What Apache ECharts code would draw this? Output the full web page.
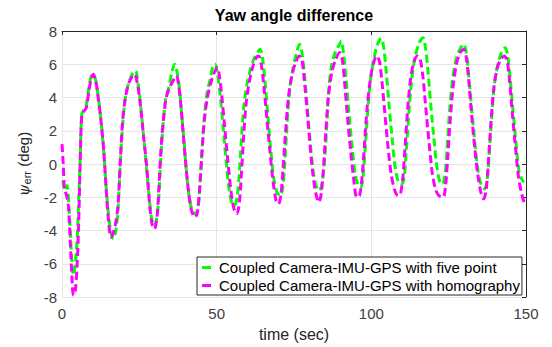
<!DOCTYPE html>
<html>
<head>
    <meta charset="utf-8">
    <style>
        body{
            margin:0;
            padding:0;
            background:#fff;
        }
        #chart{
            width: 552px;
            height: 347px;
        }
    </style>
</head>
<body>
    <div id="chart"></div>
    <script src="https://cdn.jsdelivr.net/npm/echarts@6/dist/echarts.min.js"></script>
    <script>
        // [time (sec), yaw error (deg)]
        var fivePoint = [
            [0.3,-1.0],[1.0,-1.6],[1.6,-1.3],[2.2,-2.4],[2.8,-4.5],[3.3,-6.2],[3.7,-6.7],[4.3,-6.0],[4.9,-4.5],[5.4,-2.2],
            [5.9,0.5],[6.4,3.0],[7.2,3.3],[7.8,3.5],[8.6,4.5],[9.3,5.2],[10.0,5.4],[10.8,5.1],[11.6,4.2],[12.5,2.8],
            [13.4,1.0],[14.2,-1.2],[15.0,-3.0],[15.8,-4.1],[16.6,-4.5],[17.4,-4.0],[18.1,-2.8],[18.7,-0.5],[19.4,1.8],[20.2,3.6],
            [21.0,4.5],[22.0,5.1],[23.0,5.5],[23.8,5.6],[24.6,4.8],[25.4,3.6],[26.3,1.8],[27.3,-0.2],[28.3,-2.2],[29.0,-3.3],
            [29.8,-3.7],[30.6,-3.3],[31.3,-2.0],[31.9,0.2],[32.6,2.2],[33.5,3.9],[34.5,4.6],[35.5,5.5],[36.4,6.0],[37.0,5.7],
            [37.8,4.8],[38.6,3.2],[39.5,1.2],[40.4,-0.8],[41.3,-2.2],[42.3,-2.9],[43.2,-3.0],[44.0,-2.5],[44.6,-1.2],[45.3,1.0],
            [46.1,3.0],[47.0,4.4],[47.8,5.0],[48.8,5.9],[49.5,6.0],[50.3,5.4],[51.1,4.2],[52.0,2.4],[53.0,0.3],[54.0,-1.5],
            [55.0,-2.4],[55.8,-2.5],[56.6,-2.0],[57.3,-0.6],[58.0,1.5],[58.8,3.5],[59.8,4.8],[60.8,5.6],[62.0,6.3],[63.2,6.7],
            [64.0,6.9],[64.8,6.4],[65.6,5.0],[66.5,3.0],[67.4,1.0],[68.4,-0.8],[69.5,-1.7],[70.5,-1.9],[71.3,-1.5],[72.0,0.0],
            [72.7,2.2],[73.5,4.3],[74.5,5.6],[75.7,6.6],[76.8,7.2],[77.5,6.8],[78.3,5.5],[79.2,3.6],[80.1,1.6],[81.1,-0.3],
            [82.1,-1.3],[83.2,-1.6],[84.0,-1.2],[84.8,0.0],[85.6,2.3],[86.2,4.4],[87.2,6.0],[88.5,6.8],[89.7,7.2],[90.3,7.4],
            [91.1,6.5],[91.9,5.0],[92.8,3.0],[93.8,1.0],[94.8,-0.6],[95.8,-1.3],[96.6,-1.4],[97.3,-0.8],[98.0,0.9],[98.8,3.1],
            [99.7,5.0],[100.8,6.3],[102.0,7.2],[103.2,7.55],[104.0,7.0],[104.8,5.6],[105.7,3.6],[106.7,1.6],[107.7,-0.2],[108.8,-1.1],
            [109.8,-1.2],[110.6,-0.8],[111.3,0.8],[112.1,3.0],[113.0,5.0],[114.1,6.4],[115.5,7.3],[116.7,7.6],[117.5,7.0],[118.3,5.6],
            [119.2,3.6],[120.2,1.6],[121.2,-0.2],[122.2,-1.1],[123.0,-1.2],[123.8,-0.7],[124.5,1.0],[125.3,3.2],[126.2,5.0],[127.3,6.2],
            [128.6,6.9],[129.8,7.2],[130.6,6.8],[131.4,5.5],[132.3,3.6],[133.3,1.6],[134.3,-0.2],[135.4,-1.2],[136.6,-1.5],[137.4,-1.0],
            [138.1,0.6],[138.9,2.8],[139.8,4.8],[140.9,6.0],[142.1,6.7],[143.3,7.0],[144.0,6.6],[144.8,5.3],[145.7,3.4],[146.7,1.4],
            [147.7,-0.4],[148.6,-0.9],[149.3,-1.1]
        ];
        var homography = [
            [0,1.2],[0.4,0.0],[0.8,-1.5],[1.5,-1.9],[2.1,-2.6],[2.7,-4.8],[3.2,-6.8],[3.7,-7.9],[4.3,-7.6],[4.9,-6.0],
            [5.4,-3.5],[5.9,0.3],[6.4,2.9],[7.2,3.2],[7.9,3.4],[8.7,4.4],[9.4,5.1],[10.1,5.4],[10.9,5.0],[11.7,4.0],
            [12.6,2.6],[13.5,0.8],[14.3,-1.6],[15.1,-3.5],[15.8,-4.4],[16.5,-4.2],[17.3,-3.6],[18.1,-2.5],[18.8,0.0],[19.6,2.6],
            [20.5,4.0],[21.5,4.8],[22.5,5.2],[23.5,5.4],[24.3,4.9],[25.2,3.8],[26.3,1.8],[27.4,-0.2],[28.4,-2.6],[29.2,-3.7],
            [29.9,-3.9],[30.7,-3.2],[31.3,-1.5],[31.9,0.6],[32.7,2.5],[33.7,4.0],[34.8,4.6],[35.9,5.0],[37.0,5.3],[37.6,4.9],
            [38.3,3.8],[39.1,2.0],[40.0,0.0],[41.0,-1.8],[42.0,-2.9],[43.0,-3.2],[43.8,-2.9],[44.5,-1.5],[45.2,0.5],[46.0,2.6],
            [47.0,4.0],[48.0,4.8],[49.0,5.4],[50.2,5.8],[50.9,5.3],[51.7,4.0],[52.6,2.2],[53.6,0.2],[54.6,-1.6],[55.6,-2.7],
            [56.5,-3.0],[57.3,-2.4],[58.0,-0.6],[58.7,1.6],[59.5,3.6],[60.5,4.9],[61.6,5.8],[62.8,6.4],[63.6,6.5],[64.4,6.0],
            [65.3,4.6],[66.2,2.8],[67.2,0.8],[68.2,-1.0],[69.2,-2.2],[70.0,-2.4],[70.8,-1.8],[71.5,-0.2],[72.3,2.0],[73.2,4.0],
            [74.3,5.3],[75.5,6.1],[76.7,6.5],[77.5,6.3],[78.3,5.1],[79.2,3.3],[80.1,1.3],[81.1,-0.6],[82.1,-1.8],[83.0,-2.3],
            [83.8,-1.8],[84.5,-0.3],[85.3,2.0],[86.1,4.0],[87.2,5.5],[88.5,6.3],[89.8,6.7],[90.6,6.3],[91.4,4.8],[92.3,2.8],
            [93.3,0.8],[94.3,-0.9],[95.3,-2.0],[96.2,-1.9],[97.0,-0.8],[97.8,1.2],[98.6,3.3],[99.6,5.0],[100.6,6.0],[101.7,6.5],
            [102.6,6.2],[103.4,5.0],[104.3,3.2],[105.3,1.2],[106.4,-0.6],[107.6,-1.6],[108.6,-1.9],[109.4,-1.8],[110.2,-0.8],[110.9,1.0],
            [111.7,3.2],[112.6,5.0],[113.7,6.1],[114.9,6.5],[115.8,6.3],[116.7,5.2],[117.6,3.4],[118.6,1.4],[119.6,-0.4],[120.7,-1.5],
            [121.8,-1.9],[123.2,-2.0],[124.0,-1.3],[124.7,0.4],[125.5,2.6],[126.4,4.6],[127.5,6.0],[128.7,6.7],[129.9,6.9],[130.7,6.4],
            [131.5,5.0],[132.4,3.0],[133.4,1.0],[134.4,-0.6],[135.4,-1.7],[136.3,-2.1],[137.1,-1.6],[137.8,0.0],[138.6,2.3],[139.5,4.4],
            [140.6,5.7],[141.8,6.3],[143.0,6.5],[143.9,6.2],[144.7,5.0],[145.6,3.0],[146.6,1.0],[147.6,-0.8],[148.6,-1.8],[149.4,-2.3],
            [150,-2.4]
        ];
        var seriesNames = ["Coupled Camera-IMU-GPS with five point", "Coupled Camera-IMU-GPS with homography"];
        var xTicks = [0, 50, 100, 150];
        var yTicks = [-8, -6, -4, -2, 0, 2, 4, 6, 8];
    </script>
    <script>
        var FONT = '"Liberation Sans", Arial, Helvetica, sans-serif';
        var chart = echarts.init(document.getElementById("chart"), null, {renderer: 'svg'});

        var boxAxis = {
            axisLine: {show: true, onZero: false, lineStyle: {color: '#262626', width: 1}},
            axisTick: {show: true, inside: true, length: 4, lineStyle: {color: '#262626'}},
            axisLabel: {show: false},
            splitLine: {show: false}
        };

        var option = {
            backgroundColor: '#fff',
            animation: false,
            textStyle: {fontFamily: FONT},
            graphic: [{
                type: 'text',
                x: 294,
                y: 7,
                style: {
                    text: 'Yaw angle difference',
                    textAlign: 'center',
                    font: 'bold 16px ' + FONT,
                    fill: '#000'
                }
            }],
            grid: {left: 62, right: 26, top: 31, bottom: 46},
            legend: {
                orient: 'vertical',
                left: 197,
                top: 257,
                padding: [2, 2, 1, 5],
                itemGap: 1,
                itemWidth: 9,
                itemHeight: 3,
                borderColor: '#262626',
                borderWidth: 1,
                backgroundColor: '#fff',
                textStyle: {fontSize: 15, lineHeight: 17, color: '#000', fontFamily: FONT, padding: [0, 0, 0, 3]},
                data: [
                    {name: seriesNames[0], icon: 'rect'},
                    {name: seriesNames[1], icon: 'rect'}
                ]
            },
            xAxis: [{
                type: 'value',
                min: xTicks[0],
                max: xTicks[xTicks.length - 1],
                interval: 50,
                name: 'time (sec)',
                nameLocation: 'middle',
                nameGap: 29,
                nameTextStyle: {fontSize: 16, color: '#262626'},
                axisLine: {show: false, onZero: false},
                axisTick: {show: false},
                axisLabel: {fontSize: 15, color: '#404040', margin: 9},
                splitLine: {show: true, lineStyle: {color: '#e6e6e6'}}
            }, Object.assign({
                type: 'value', position: 'top',
                min: xTicks[0], max: xTicks[xTicks.length - 1], interval: 50
            }, boxAxis)],
            yAxis: [{
                type: 'value',
                min: yTicks[0],
                max: yTicks[yTicks.length - 1],
                interval: 2,
                name: '{psi|ψ}{sub|err} (deg)',
                nameLocation: 'middle',
                nameRotate: 90,
                nameGap: 30,
                nameTextStyle: {
                    fontSize: 15,
                    color: '#262626',
                    rich: {
                        psi: {fontSize: 15, fontStyle: 'italic', fontFamily: '"DejaVu Serif", serif', color: '#262626'},
                        sub: {fontSize: 11, color: '#262626', padding: [6, 0, 0, 0]}
                    }
                },
                axisLine: {show: false, onZero: false},
                axisTick: {show: false},
                axisLabel: {fontSize: 15, color: '#404040', margin: 5},
                splitLine: {show: true, lineStyle: {color: '#e6e6e6'}}
            }, Object.assign({
                type: 'value', position: 'right',
                min: yTicks[0], max: yTicks[yTicks.length - 1], interval: 2
            }, boxAxis)],
            series: [{
                name: seriesNames[0],
                type: 'line',
                data: fivePoint,
                smooth: 0.3,
                showSymbol: false,
                color: '#00ff00',
                lineStyle: {width: 3, type: [8, 4], color: '#00ff00'}
            }, {
                name: seriesNames[1],
                type: 'line',
                data: homography,
                smooth: 0.3,
                showSymbol: false,
                color: '#ff00ff',
                lineStyle: {width: 3, type: [8, 4], color: '#ff00ff'}
            }]
        };

        chart.setOption(option);
    </script>
</body>
</html>
